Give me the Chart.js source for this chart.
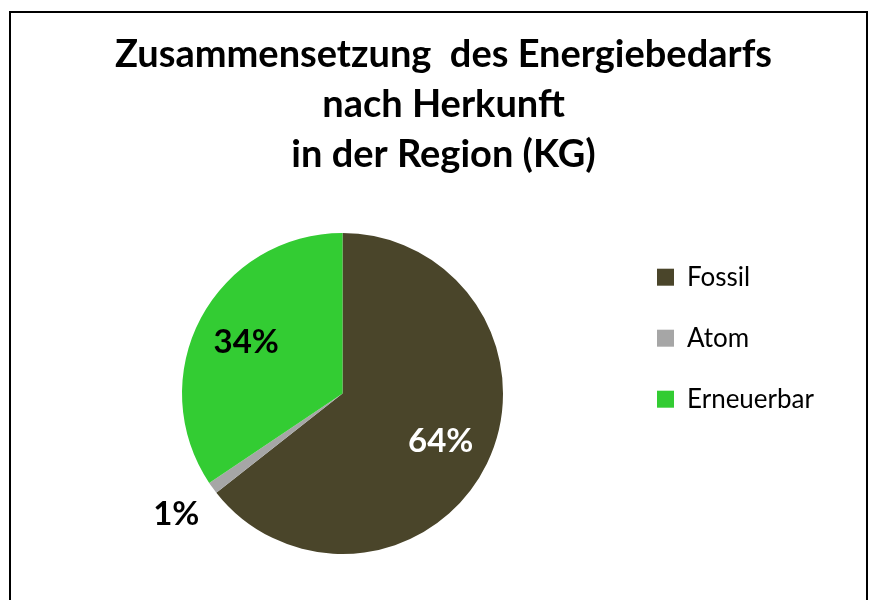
<!DOCTYPE html>
<html>
<head>
<meta charset="utf-8">
<script src="https://cdn.jsdelivr.net/npm/chart.js@4/dist/chart.umd.min.js"></script>
<style>
  body { margin: 0; background: #fff; }
  #wrap { position: relative; width: 869px; height: 600px; overflow: hidden; }
  #frame { position: absolute; left: 9px; top: 11px; width: 855px; height: 640px; border: 2px solid #000; }
  #energy-pie { position: absolute; left: 0; top: 0; }
</style>
</head>
<body>
<div id="wrap">
  <div id="frame"></div>
  <canvas id="energy-pie" width="869" height="600"></canvas>
</div>
<script>
/* Data */
let sourceNames = ['Fossil', 'Atom', 'Erneuerbar']
let sourceShares = [64.4, 1.2, 34.4]   // percent
let sourceColors = ['#4a452a', '#a6a6a6', '#33cc33']
let labelColors = ['#ffffff', '#000000', '#000000']
let titleLines = ['Zusammensetzung  des Energiebedarfs', 'nach Herkunft', 'in der Region (KG)']

let ctx = document.querySelector('#energy-pie').getContext('2d')

/* Percent labels on the slices, small slices go outside */
let percentLabels = {
    id: 'percentLabels',
    afterDatasetsDraw(chart) {
        let meta = chart.getDatasetMeta(0)
        let values = chart.data.datasets[0].data
        let total = values.reduce((a, b) => a + b, 0)
        let c = chart.ctx
        c.save()
        c.font = 'bold 33px Lato'
        c.textAlign = 'center'
        c.textBaseline = 'middle'
        meta.data.forEach(function(arc, i) {
            let p = arc.getProps(['x', 'y', 'startAngle', 'endAngle', 'outerRadius'], true)
            let mid = (p.startAngle + p.endAngle) / 2
            let pct = values[i] / total * 100
            let dist = pct < 5 ? p.outerRadius * 1.28 : p.outerRadius * 0.68
            c.fillStyle = labelColors[i]
            c.fillText(Math.round(pct) + '%', p.x + Math.cos(mid) * dist, p.y + Math.sin(mid) * dist)
        })
        c.restore()
    }
}

let energyChart = new Chart(ctx, {
    type: 'pie',
    data: {
        labels: sourceNames,
        datasets: [ {
            data: sourceShares,
            backgroundColor: sourceColors,
            borderWidth: 0
        } ]
    },
    options: {
        responsive: false,
        animation: false,
        layout: { padding: { left: 63, right: 45, bottom: 46 } },
        plugins: {
            title: {
                display: true,
                text: titleLines,
                color: '#000',
                font: { family: 'Lato', size: 38, weight: 'bold', lineHeight: '50px' },
                padding: { top: 30, bottom: 53 }
            },
            legend: {
                position: 'right',
                title: {
                    display: true,
                    text: ' ',
                    font: { size: 12, lineHeight: 1.2 },
                    padding: { top: 54, bottom: 54 }
                },
                labels: {
                    color: '#000',
                    font: { family: 'Lato', size: 26 },
                    boxWidth: 17,
                    boxHeight: 17,
                    padding: 35
                }
            },
            tooltip: { enabled: false }
        }
    },
    plugins: [percentLabels]
})
</script>
</body>
</html>
